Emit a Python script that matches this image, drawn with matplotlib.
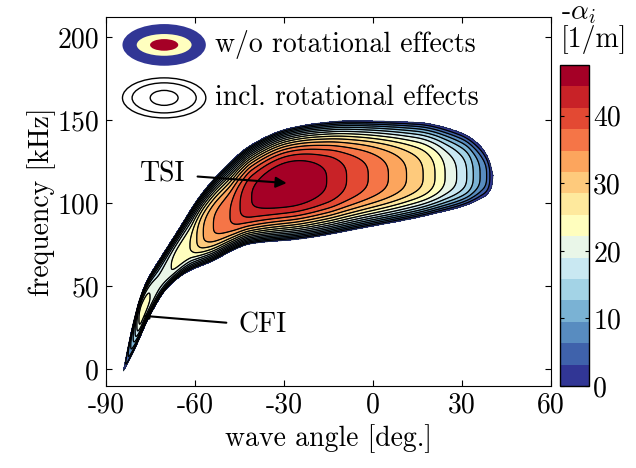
"""Growth-rate map of the unstable waves (TSI / CFI lobe) vs. wave angle and frequency."""

import numpy as np
import matplotlib

matplotlib.use("Agg")
import matplotlib.pyplot as plt
from matplotlib.patches import Ellipse

plt.rcParams["font.family"] = "cmr10"
plt.rcParams["mathtext.fontset"] = "cm"
plt.rcParams["axes.unicode_minus"] = False
plt.rcParams["axes.formatter.use_mathtext"] = True

# Outer edge of the unstable lobe (deg., kHz)
upper_angle = [-84.2, -82.5, -80.5, -78.5, -76.0, -72.0, -66.2, -58.3, -50.5,
               -41.5, -29.1, -17.9, -7.8, 14.7, 29.3, 36.1, 39.4, 40.5]
upper_freq = [-1.6, 14.0, 30.0, 43.0, 54.0, 66.0, 82.3, 104.4, 120.5,
              134.5, 144.6, 148.2, 149.6, 148.6, 142.6, 134.5, 124.5, 116.4]
lower_angle = [-84.2, -80.8, -75.2, -69.6, -62.8, -53.8, -47.2, -41.5,
               -24.6, -2.1, 20.3, 36.1, 40.0, 40.5]
lower_freq = [-1.6, 10.0, 32.1, 48.2, 58.2, 65.2, 71.5, 75.3,
              78.3, 85.4, 93.4, 102.4, 109.5, 116.4]

# Ridge of maximum amplification and its value (-alpha_i, 1/m)
ridge_angle = [-84.2, -78.0, -72.0, -66.0, -61.7, -57.2, -53.8, -48.2, -44.8,
               -40.9, -28.0, -15.0, 0.0, 40.5]
ridge_freq = [-1.6, 34.0, 52.0, 66.0, 74.3, 82.0, 86.3, 92.4, 97.8,
              103.0, 111.4, 114.0, 116.0, 116.4]
peak_angle = [-84.2, -81.0, -78.0, -72.0, -66.0, -61.7, -59.4, -57.2, -53.8,
              -48.2, -44.8, -40.9, -28.0, -15.6, -8.9, -1.6, 5.2, 11.3, 16.9,
              20.9, 24.3, 28.2, 31.6, 33.8, 36.1, 38.3, 39.4, 40.5]
peak_alpha = [0.0, 12.0, 24.0, 20.0, 23.5, 25.33, 28.5, 31.67, 34.83,
              38.0, 41.17, 44.33, 47.4, 44.33, 41.17, 38.0, 34.83, 31.67, 28.5,
              25.33, 22.17, 19.0, 15.83, 12.67, 9.5, 6.33, 3.17, 0.0]

levels = np.linspace(0, 47.5, 16)
x_ticks = [-90, -60, -30, 0, 30, 60]
y_ticks = [0, 50, 100, 150, 200]
cbar_ticks = [0, 10, 20, 30, 40]

FS = 20


def pchip(xk, yk, x):
    """Shape-preserving cubic through the read points (no scipy needed)."""
    xk = np.asarray(xk, float)
    yk = np.asarray(yk, float)
    h = np.diff(xk)
    d = np.diff(yk) / h
    m = np.zeros_like(yk)
    m[0], m[-1] = d[0], d[-1]
    for k in range(1, len(xk) - 1):
        if d[k - 1] * d[k] > 0:
            w1 = 2 * h[k] + h[k - 1]
            w2 = h[k] + 2 * h[k - 1]
            m[k] = (w1 + w2) / (w1 / d[k - 1] + w2 / d[k])
    i = np.clip(np.searchsorted(xk, x) - 1, 0, len(xk) - 2)
    t = (x - xk[i]) / h[i]
    return ((2 * t**3 - 3 * t**2 + 1) * yk[i] + (t**3 - 2 * t**2 + t) * h[i] * m[i]
            + (-2 * t**3 + 3 * t**2) * yk[i + 1] + (t**3 - t**2) * h[i] * m[i + 1])


def build_field(theta, freq, shape=3.0):
    """Fill the lobe between the traced edges, peaking on the ridge."""
    up = pchip(upper_angle, upper_freq, theta)[None, :]
    lo = pchip(lower_angle, lower_freq, theta)[None, :]
    rc = pchip(ridge_angle, ridge_freq, theta)[None, :]
    amp = pchip(peak_angle, peak_alpha, theta)[None, :]
    F = freq[:, None]
    with np.errstate(divide="ignore", invalid="ignore"):
        u = np.where(F >= rc, (F - rc) / (up - rc), (rc - F) / (rc - lo))
        z = amp * (1 - np.abs(u) ** shape)
    T = theta[None, :]
    inside = (u <= 1) & (T > upper_angle[0]) & (T < upper_angle[-1])
    return np.where(inside & np.isfinite(z), z, -1.0)


theta = np.linspace(-90, 60, 1400)
freq = np.linspace(-10, 212, 1400)
Z = build_field(theta, freq)

fig = plt.figure(figsize=(6.36, 4.68), dpi=100)
ax = fig.add_axes([106 / 636, 1 - 385.7 / 468, 445 / 636, 368.7 / 468])
cax = fig.add_axes([559.5 / 636, 1 - 386 / 468, 29 / 636, 321 / 468])

band_colors = plt.get_cmap("RdYlBu_r")(np.linspace(0, 1, len(levels) - 1))
cf = ax.contourf(theta, freq, Z, levels=levels, colors=band_colors)
# edges of the filled bands, then the "incl. rotational effects" lines
ax.contour(theta, freq, Z, levels=levels[:-1], colors="#1a2a3a", linewidths=0.5)
ax.contour(theta, freq, Z, levels=levels[1:-1], colors="k", linewidths=0.9)

ax.set_xlim(-90, 60)
ax.set_ylim(-10, 212)
ax.set_xticks(x_ticks)
ax.set_xticklabels([str(v) for v in x_ticks])
ax.set_yticks(y_ticks)
ax.set_yticklabels([str(v) for v in y_ticks])
ax.tick_params(direction="in", top=True, right=True, length=4, labelsize=FS, pad=5)
ax.set_xlabel("wave angle [deg.]", fontsize=FS, labelpad=4)
ax.set_ylabel("frequency [kHz]", fontsize=FS, labelpad=1)

# annotations
ax.annotate("TSI", xy=(-29.1, 112.0), xytext=(-71.0, 117.5), fontsize=FS,
            ha="center", va="center",
            arrowprops=dict(arrowstyle="-|>", color="k", lw=1.5,
                            mutation_scale=16, shrinkA=7, shrinkB=0))
ax.annotate("CFI", xy=(-77.6, 32.1), xytext=(-37.1, 26.1), fontsize=FS,
            ha="center", va="center",
            arrowprops=dict(arrowstyle="-|>", color="k", lw=1.5,
                            mutation_scale=8, shrinkA=7, shrinkB=0))

# hand-made legend
for w, h, c in [(28.1, 25.1, "#313695"), (18.5, 13.1, "#ffffbf"), (9.5, 7.0, "#a50026")]:
    ax.add_patch(Ellipse((-70.4, 195.2), w, h, facecolor=c, edgecolor="none"))
for w, h in [(28.1, 24.1), (21.6, 18.1), (9.4, 9.0)]:
    ax.add_patch(Ellipse((-70.4, 163.3), w, h, facecolor="none", edgecolor="k", lw=1.0))
ax.text(-53.3, 195.2, "w/o rotational effects", fontsize=FS, va="center", ha="left")
ax.text(-53.3, 163.3, "incl. rotational effects", fontsize=FS, va="center", ha="left")

cb = fig.colorbar(cf, cax=cax, ticks=cbar_ticks)
cb.ax.set_yticklabels([str(v) for v in cbar_ticks])
cb.ax.tick_params(direction="in", left=True, right=True, length=3, labelsize=FS)
cb.outline.set_linewidth(1.0)
fig.text(561 / 636, 1 - 13 / 468, r"-$\alpha_i$", fontsize=FS, ha="left", va="center")
fig.text(561 / 636, 1 - 40 / 468, "[1/m]", fontsize=FS, ha="left", va="center")

fig.savefig("out.png", dpi=100)
